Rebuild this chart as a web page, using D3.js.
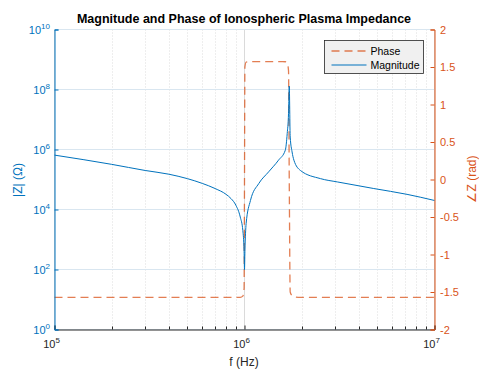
<!DOCTYPE html>
<html>
<head>
<meta charset="utf-8">
<script src="https://cdn.jsdelivr.net/npm/d3@7"></script>
<style>
  body { margin: 0; background: #fff; }
  text { font-family: "Liberation Sans", Arial, Helvetica, sans-serif; }
</style>
</head>
<body>
<svg class="chart"></svg>
<script>

//DONNEES---------------------------------------------------
let freq = [1e5, 2e5, 3e5, 4e5, 5e5, 6e5, 7e5, 8e5, 8.5e5, 9e5, 9.5e5, 9.8e5, 9.95e5, 1e6,
  1.005e6, 1.02e6, 1.075e6, 1.19e6, 1.34e6, 1.51e6, 1.64e6, 1.678e6, 1.705e6, 1.72e6,
  1.74e6, 1.78e6, 1.82e6, 1.97e6, 2.51e6, 3.08e6, 4.79e6, 7.17e6, 1e7];

let magnitude = [6.5e5, 3.2e5, 2.0e5, 1.5e5, 1.07e5, 7.4e4, 5.0e4, 3.2e4, 2.3e4, 1.4e4, 5.6e3, 2.0e3, 4.0e2, 1.0e2,
  4.0e2, 3.4e3, 2.0e4, 7.4e4, 1.8e5, 4.4e5, 9.5e5, 3.4e6, 1.6e7, 1.3e8,
  2.6e6, 8.3e5, 4.4e5, 2.0e5, 1.07e5, 8.3e4, 5.0e4, 3.2e4, 2.0e4];

let phase = [-1.5708, -1.5708, -1.5708, -1.5708, -1.5708, -1.5708, -1.5708, -1.5708, -1.5708, -1.5708, -1.5705, -1.555, -1.45, 0,
  1.5, 1.565, 1.5705, 1.5708, 1.5708, 1.5708, 1.57, 1.555, 1.45, 0,
  -1.5, -1.55, -1.565, -1.5705, -1.5708, -1.5708, -1.5708, -1.5708, -1.5708];

let xTicks = [1e5, 1e6, 1e7];
let xTickExp = ["5", "6", "7"];
let yLeftTicks = [1e0, 1e2, 1e4, 1e6, 1e8, 1e10];
let yLeftExp = ["0", "2", "4", "6", "8", "10"];
let yRightTicks = [-2, -1.5, -1, -0.5, 0, 0.5, 1, 1.5, 2];
let yRightLabels = ["-2", "-1.5", "-1", "-0.5", "0", "0.5", "1", "1.5", "2"];
let seriesNames = ["Phase", "Magnitude"];

//CHART---------------------------------------------------
let w = 479;
let h = 371;
let bleu = "#0072BD";
let orange = "#D95319";
let sombre = "#262626";

let svg = d3.select(".chart")
  .attr("width", w)
  .attr("height", h);

let x = d3.scaleLog().domain([1e5, 1e7]).range([54.5, 434.5]);
let yL = d3.scaleLog().domain([1e0, 1e10]).range([329.5, 29.5]);
let yR = d3.scaleLinear().domain([-2, 2]).range([329.5, 29.5]);

//minor ticks positions
let minorX = [];
[1e5, 1e6].forEach(function(dec) {
  for (let k = 2; k <= 9; k++) minorX.push(dec * k);
});

//grid
let grille = svg.append("g");
grille.selectAll(".minor")
  .data(minorX)
  .enter().append("line")
  .attr("x1", function(d) { return Math.round(x(d)) + 0.5; })
  .attr("x2", function(d) { return Math.round(x(d)) + 0.5; })
  .attr("y1", 29.5).attr("y2", 329.5)
  .attr("stroke", "#dcdcdc")
  .attr("stroke-dasharray", "1,2");

grille.selectAll(".majx")
  .data(xTicks)
  .enter().append("line")
  .attr("x1", function(d) { return x(d); })
  .attr("x2", function(d) { return x(d); })
  .attr("y1", 29.5).attr("y2", 329.5)
  .attr("stroke", "#dadada");

grille.selectAll(".majy")
  .data(yLeftTicks)
  .enter().append("line")
  .attr("x1", 54.5).attr("x2", 434.5)
  .attr("y1", function(d) { return yL(d); })
  .attr("y2", function(d) { return yL(d); })
  .attr("stroke", "#d9e6f0");

//courbes
let lineMag = d3.line()
  .x(function(d, i) { return x(freq[i]); })
  .y(function(d) { return yL(d); })
  .curve(d3.curveMonotoneX);

let linePhase = d3.line()
  .x(function(d, i) { return x(freq[i]); })
  .y(function(d) { return yR(d); })
  .curve(d3.curveMonotoneX);

svg.append("path")
  .attr("d", linePhase(phase))
  .attr("fill", "none")
  .attr("stroke", orange)
  .attr("stroke-opacity", 0.75)
  .attr("stroke-width", 1.3)
  .attr("stroke-dasharray", "8,5");

svg.append("path")
  .attr("d", lineMag(magnitude))
  .attr("fill", "none")
  .attr("stroke", bleu)
  .attr("stroke-width", 1);

//axes
let gx = svg.append("g")
  .attr("transform", "translate(0,329.5)")
  .call(d3.axisBottom(x).tickValues(xTicks).tickSize(-4).tickFormat(""));
gx.select(".domain").attr("stroke", sombre);
gx.selectAll(".tick line").attr("stroke", sombre);

svg.append("g").selectAll("line")
  .data(minorX)
  .enter().append("line")
  .attr("x1", function(d) { return Math.round(x(d)) + 0.5; })
  .attr("x2", function(d) { return Math.round(x(d)) + 0.5; })
  .attr("y1", 329.5).attr("y2", 326.5)
  .attr("stroke", sombre);

let gyL = svg.append("g")
  .attr("transform", "translate(54.5,0)")
  .call(d3.axisLeft(yL).tickValues(yLeftTicks).tickSize(-4).tickFormat(""));
gyL.select(".domain").attr("stroke", bleu);
gyL.selectAll(".tick line").attr("stroke", bleu);

let gyR = svg.append("g")
  .attr("transform", "translate(434.5,0)")
  .call(d3.axisRight(yR).tickValues(yRightTicks).tickSize(-4).tickFormat(""));
gyR.select(".domain").attr("stroke", orange);
gyR.selectAll(".tick line").attr("stroke", orange);

//labels x
let lx = svg.append("g").selectAll("text")
  .data(xTicks)
  .enter().append("text")
  .attr("x", function(d) { return x(d) - 3; })
  .attr("y", 348)
  .attr("text-anchor", "middle")
  .attr("font-size", 11)
  .attr("fill", sombre);
lx.append("tspan").text("10");
lx.append("tspan").attr("dy", -5).attr("font-size", 8)
  .text(function(d, i) { return xTickExp[i]; });

//labels y gauche
let ly = svg.append("g").selectAll("text")
  .data(yLeftTicks)
  .enter().append("text")
  .attr("x", 50)
  .attr("y", function(d) { return yL(d) + 4; })
  .attr("text-anchor", "end")
  .attr("font-size", 11)
  .attr("fill", bleu);
ly.append("tspan").text("10");
ly.append("tspan").attr("dy", -5).attr("font-size", 8)
  .text(function(d, i) { return yLeftExp[i]; });

//labels y droite
svg.append("g").selectAll("text")
  .data(yRightTicks)
  .enter().append("text")
  .attr("x", 440)
  .attr("y", function(d) { return yR(d) + 4; })
  .attr("font-size", 11)
  .attr("fill", orange)
  .text(function(d, i) { return yRightLabels[i]; });

//titres
svg.append("text")
  .attr("x", 244).attr("y", 23)
  .attr("text-anchor", "middle")
  .attr("font-size", 12.5)
  .attr("font-weight", "bold")
  .attr("fill", "#000")
  .text("Magnitude and Phase of Ionospheric Plasma Impedance");

svg.append("text")
  .attr("x", 244).attr("y", 366)
  .attr("text-anchor", "middle")
  .attr("font-size", 12)
  .attr("fill", sombre)
  .text("f (Hz)");

svg.append("text")
  .attr("transform", "translate(22,180) rotate(-90)")
  .attr("text-anchor", "middle")
  .attr("font-size", 12)
  .attr("fill", bleu)
  .text("|Z| (Ω)");

svg.append("text")
  .attr("transform", "translate(476,179) rotate(-90)")
  .attr("text-anchor", "middle")
  .attr("font-size", 12)
  .attr("fill", orange)
  .text("∠Z (rad)");

//legende
let leg = svg.append("g").attr("transform", "translate(324.5,40.5)");
leg.append("rect")
  .attr("width", 99).attr("height", 33)
  .attr("fill", "#f0f0f0")
  .attr("stroke", sombre)
  .attr("stroke-width", 0.8);

leg.append("line")
  .attr("x1", 7).attr("x2", 42).attr("y1", 10.5).attr("y2", 10.5)
  .attr("stroke", orange).attr("stroke-opacity", 0.75)
  .attr("stroke-width", 1.3).attr("stroke-dasharray", "8,5");
leg.append("line")
  .attr("x1", 7).attr("x2", 42).attr("y1", 24.5).attr("y2", 24.5)
  .attr("stroke", bleu).attr("stroke-width", 1);

leg.selectAll(".lab")
  .data(seriesNames)
  .enter().append("text")
  .attr("x", 46)
  .attr("y", function(d, i) { return 14.5 + i * 14; })
  .attr("font-size", 10.5)
  .attr("fill", "#000")
  .text(function(d) { return d; });

</script>
</body>
</html>
